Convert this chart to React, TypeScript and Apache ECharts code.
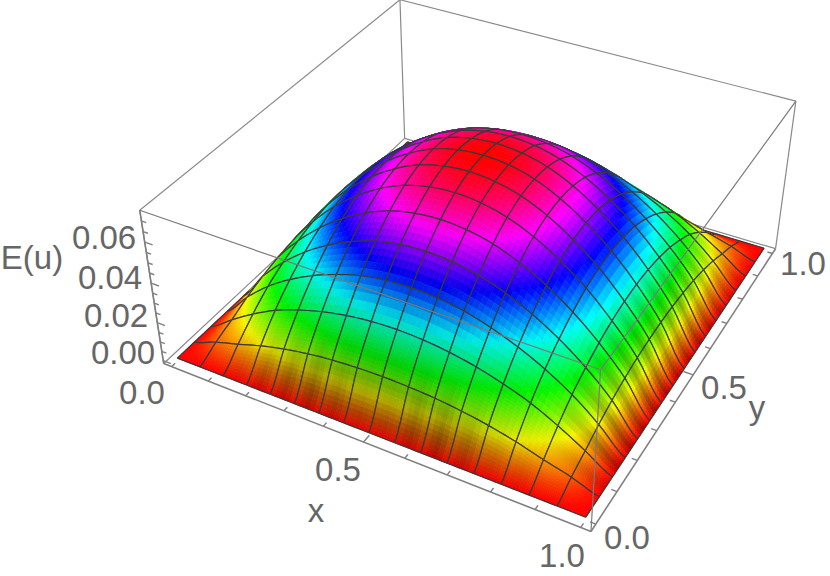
import React, { useEffect, useRef } from "react";
import * as echarts from "echarts";

// Surface heights (x 10^-3) at the mesh nodes; rows run along y = 0..1, columns along x = 0..1.
const heights: number[][] = [
  [0, 0, 0, 0, 0, 0, 0, 0, 0, 0, 0, 0, 0, 0, 0, 0, 0],
  [0, 4.5, 8.0, 11.8, 14.8, 17.0, 18.5, 19.3, 19.6, 19.3, 18.5, 17.0, 14.8, 11.8, 8.0, 4.5, 0],
  [0, 8.0, 15.5, 21.8, 26.4, 30.0, 32.5, 34.0, 34.5, 34.0, 32.5, 30.0, 26.4, 21.8, 15.5, 8.0, 0],
  [0, 11.8, 21.8, 29.6, 35.8, 40.6, 44.2, 46.1, 46.8, 46.1, 44.2, 40.6, 35.8, 29.6, 21.8, 11.8, 0],
  [0, 14.8, 26.4, 35.8, 43.3, 49.2, 53.4, 55.8, 56.6, 55.8, 53.4, 49.2, 43.3, 35.8, 26.4, 14.8, 0],
  [0, 17.0, 30.0, 40.6, 49.2, 55.9, 60.7, 63.4, 64.3, 63.4, 60.7, 55.9, 49.2, 40.6, 30.0, 17.0, 0],
  [0, 18.5, 32.5, 44.2, 53.4, 60.7, 65.9, 68.9, 69.9, 68.9, 65.9, 60.7, 53.4, 44.2, 32.5, 18.5, 0],
  [0, 19.3, 34.0, 46.1, 55.8, 63.4, 68.9, 71.9, 73.0, 71.9, 68.9, 63.4, 55.8, 46.1, 34.0, 19.3, 0],
  [0, 19.6, 34.5, 46.8, 56.6, 64.3, 69.9, 73.0, 74.0, 73.0, 69.9, 64.3, 56.6, 46.8, 34.5, 19.6, 0],
  [0, 19.3, 34.0, 46.1, 55.8, 63.4, 68.9, 71.9, 73.0, 71.9, 68.9, 63.4, 55.8, 46.1, 34.0, 19.3, 0],
  [0, 18.5, 32.5, 44.2, 53.4, 60.7, 65.9, 68.9, 69.9, 68.9, 65.9, 60.7, 53.4, 44.2, 32.5, 18.5, 0],
  [0, 17.0, 30.0, 40.6, 49.2, 55.9, 60.7, 63.4, 64.3, 63.4, 60.7, 55.9, 49.2, 40.6, 30.0, 17.0, 0],
  [0, 14.8, 26.4, 35.8, 43.3, 49.2, 53.4, 55.8, 56.6, 55.8, 53.4, 49.2, 43.3, 35.8, 26.4, 14.8, 0],
  [0, 11.8, 21.8, 29.6, 35.8, 40.6, 44.2, 46.1, 46.8, 46.1, 44.2, 40.6, 35.8, 29.6, 21.8, 11.8, 0],
  [0, 8.0, 15.5, 21.8, 26.4, 30.0, 32.5, 34.0, 34.5, 34.0, 32.5, 30.0, 26.4, 21.8, 15.5, 8.0, 0],
  [0, 4.5, 8.0, 11.8, 14.8, 17.0, 18.5, 19.3, 19.6, 19.3, 18.5, 17.0, 14.8, 11.8, 8.0, 4.5, 0],
  [0, 0, 0, 0, 0, 0, 0, 0, 0, 0, 0, 0, 0, 0, 0, 0, 0],
];
const zPeak = 74;
const xMinorTicks = [0, 0.1, 0.2, 0.3, 0.4, 0.6, 0.7, 0.8, 0.9, 1];
const xMajorTicks = [0.5];
const zMajorTicks = [0, 20, 40, 60];
const zMinorTicks = [5, 10, 15, 25, 30, 35, 45, 50, 55, 65, 70];
// strength of the dark lighting streaks seen in each mesh cell along the right and front rims
const rightRimStreak = [0, 0.12, 0.28, 0.32, 0.3, 0.32, 0.32, 0.3, 0.3, 0.32, 0.28, 0.24, 0.18, 0.12, 0.05, 0];
const frontRimStreak = [0, 0, 0.05, 0.14, 0.18, 0.2, 0.12, 0.05, 0.05, 0.16, 0.2, 0.14, 0.05, 0.04, 0, 0];

// Camera calibration: box corners in box coordinates and in the picture.
const boxCorners3d = [
  [0, 0, 0], [1, 0, 0], [1, 1, 0], [0, 1, 0],
  [0, 0, 1], [1, 0, 1], [1, 1, 1], [0, 1, 1],
];
const boxCorners2d = [
  [163, 363], [592, 531], [775, 250], [405, 138],
  [140, 211], [600, 370], [796, 100], [400, 0],
];
const PAD = 0.022;
const Z_LO = -1.5;
const Z_HI = 75;

function solveCamera(): number[] {
  const n = 11;
  const A = Array.from({ length: n }, () => new Array(n + 1).fill(0));
  const add = (row: number[], rhs: number) => {
    for (let r = 0; r < n; r++) {
      for (let c = 0; c < n; c++) A[r][c] += row[r] * row[c];
      A[r][n] += row[r] * rhs;
    }
  };
  boxCorners3d.forEach(([u, v, w], k) => {
    const [X, Y] = boxCorners2d[k];
    add([u, v, w, 1, 0, 0, 0, 0, -X * u, -X * v, -X * w], X);
    add([0, 0, 0, 0, u, v, w, 1, -Y * u, -Y * v, -Y * w], Y);
  });
  for (let c = 0; c < n; c++) {
    let p = c;
    for (let r = c + 1; r < n; r++) if (Math.abs(A[r][c]) > Math.abs(A[p][c])) p = r;
    [A[c], A[p]] = [A[p], A[c]];
    for (let r = 0; r < n; r++) {
      if (r === c) continue;
      const f = A[r][c] / A[c][c];
      for (let k = c; k <= n; k++) A[r][k] -= f * A[c][k];
    }
  }
  return A.map((row, i) => row[n] / row[i]);
}
const cam = solveCamera();

function project(x: number, y: number, z: number): number[] {
  const u = (x + PAD) / (1 + 2 * PAD);
  const v = (y + PAD) / (1 + 2 * PAD);
  return projectBox(u, v, (z - Z_LO) / (Z_HI - Z_LO));
}
function projectBox(u: number, v: number, w: number): number[] {
  const d = cam[8] * u + cam[9] * v + cam[10] * w + 1;
  return [
    (cam[0] * u + cam[1] * v + cam[2] * w + cam[3]) / d,
    (cam[4] * u + cam[5] * v + cam[6] * w + cam[7]) / d,
  ];
}

const N = heights.length - 1;
function cubic(a: number, b: number, c: number, d: number, t: number) {
  return b + 0.5 * t * (c - a + t * (2 * a - 5 * b + 4 * c - d + t * (3 * (b - c) + d - a)));
}
const cell = (i: number, j: number) =>
  heights[Math.max(0, Math.min(N, j))][Math.max(0, Math.min(N, i))];
function surf(gx: number, gy: number): number {
  const i = Math.min(N - 1, Math.floor(gx));
  const j = Math.min(N - 1, Math.floor(gy));
  const tx = gx - i;
  const ty = gy - j;
  const rows = [-1, 0, 1, 2].map((dj) =>
    cubic(cell(i - 1, j + dj), cell(i, j + dj), cell(i + 1, j + dj), cell(i + 2, j + dj), tx)
  );
  return cubic(rows[0], rows[1], rows[2], rows[3], ty);
}
function hsv(h: number, v: number): string {
  const hh = ((h % 1) + 1) % 1;
  const s = hh * 6;
  const f = s - Math.floor(s);
  const tbl = [
    [1, f, 0], [1 - f, 1, 0], [0, 1, f], [0, 1 - f, 1], [f, 0, 1], [1, 0, 1 - f],
  ][Math.floor(s) % 6];
  return `rgb(${tbl.map((c) => Math.round(c * v * 255)).join(",")})`;
}

type Seg = number[][];

function segSeries(segs: Seg[], color: string, width: number, z: number) {
  return {
    type: "custom",
    coordinateSystem: "cartesian2d",
    silent: true,
    clip: false,
    z,
    data: segs.map((_, k) => [k, k]),
    renderItem: (params: any, api: any) => {
      const s = segs[params.dataIndex];
      const a = api.coord(s[0]);
      const b = api.coord(s[1]);
      return {
        type: "line",
        shape: { x1: a[0], y1: a[1], x2: b[0], y2: b[1] },
        style: { stroke: color, lineWidth: width, fill: "none" },
      };
    },
  };
}

export default function App() {
  const ref = useRef<HTMLDivElement>(null);
  useEffect(() => {
    const chart = echarts.init(ref.current!, undefined, { renderer: "svg" });
    const c = (u: number, v: number, w: number) => projectBox(u, v, w);
    const backEdges: Seg[] = [
      [c(0, 1, 0), c(0, 1, 1)],
      [c(0, 1, 1), c(0, 0, 1)],
      [c(0, 1, 1), c(1, 1, 1)],
      [c(0, 0, 0), c(0, 1, 0)],
      [c(1, 1, 0), c(0, 1, 0)],
      [c(0, 0, 0), c(0, 0, 1)],
      [c(1, 1, 0), c(1, 1, 1)],
    ];
    const frontEdges: Seg[] = [
      [c(0, 0, 1), c(1, 0, 1)],
      [c(1, 0, 1), c(1, 1, 1)],
      [c(1, 0, 1), c(1, 0, 0)],
    ];
    const axisEdges: Seg[] = [
      [c(0, 0, 0), c(1, 0, 0)],
      [c(1, 0, 0), c(1, 1, 0)],
      [c(0, 0, 0), c(0, 0, 1)],
    ];
    const tk = (t: number) => (t + PAD) / (1 + 2 * PAD);
    const ticks: Seg[] = [];
    xMinorTicks.forEach((t) => {
      ticks.push([c(tk(t), 0, 0), c(tk(t), 0.012, 0)]);
      ticks.push([c(1, tk(t), 0), c(0.988, tk(t), 0)]);
    });
    xMajorTicks.forEach((t) => {
      ticks.push([c(tk(t), 0, 0), c(tk(t), 0.022, 0)]);
      ticks.push([c(1, tk(t), 0), c(0.978, tk(t), 0)]);
    });
    const zw = (t: number) => (t - Z_LO) / (Z_HI - Z_LO);
    zMajorTicks.forEach((t) => ticks.push([c(0, 0, zw(t)), c(0.02, 0, zw(t))]));
    zMinorTicks.forEach((t) => ticks.push([c(0, 0, zw(t)), c(0.012, 0, zw(t))]));

    // painter's order: farthest cell (x=0, y=1) first
    const cells: number[][] = [];
    for (let i = 0; i < N; i++) for (let j = N - 1; j >= 0; j--) cells.push([i, j]);

    const bump = (t: number) => Math.pow(Math.sin(Math.PI * t), 2);
    const renderCell = (params: any, api: any) => {
      const [i, j] = cells[params.dataIndex];
      const pt = (gx: number, gy: number) => api.coord(project(gx / N, gy / N, surf(gx, gy)));
      const subX = i < 2 || i >= N - 2 ? 12 : 5;
      const subY = j < 2 || j >= N - 2 ? 12 : 5;
      const children: any[] = [];
      for (let a = 0; a < subX; a++) {
        for (let b = subY - 1; b >= 0; b--) {
          const x0 = i + a / subX, x1 = i + (a + 1) / subX;
          const y0 = j + b / subY, y1 = j + (b + 1) / subY;
          const mx = (x0 + x1) / 2, my = (y0 + y1) / 2;
          const zv = surf(mx, my);
          const slope = Math.max(0, (surf(mx, y1) - surf(mx, y0)) / (y1 - y0)) / 19.6;
          let shade = 1 - 0.3 * Math.min(1, slope * slope);
          if (mx > N - 2.4) {
            const across = Math.min(1, (mx - (N - 2.4)) / 1.6);
            shade *= 1 - rightRimStreak[j] * bump(my - j) * across;
          }
          if (my < 1.6) {
            const across = Math.min(1, (1.6 - my) / 1.2);
            shade *= 1 - frontRimStreak[i] * bump(mx - i) * across;
          }
          const col = hsv(Math.max(0, Math.min(1, zv / zPeak)), shade);
          children.push({
            type: "polygon",
            shape: { points: [pt(x0, y0), pt(x1, y0), pt(x1, y1), pt(x0, y1)] },
            style: { fill: col, stroke: col, lineWidth: 0.7 },
          });
        }
      }
      const edge = (f: (t: number) => number[]) => {
        const pts = [];
        for (let k = 0; k <= 5; k++) pts.push(f(k / 5));
        return {
          type: "polyline",
          shape: { points: pts },
          style: { stroke: "#3a3a3a", lineWidth: 1.2, fill: "none" },
        };
      };
      children.push(edge((t) => pt(i + t, j)));
      children.push(edge((t) => pt(i + t, j + 1)));
      children.push(edge((t) => pt(i, j + t)));
      children.push(edge((t) => pt(i + 1, j + t)));
      return { type: "group", children };
    };

    const label = (text: string, x: number, y: number) => ({
      type: "text",
      silent: true,
      style: {
        text,
        x,
        y,
        align: "center",
        verticalAlign: "middle",
        fill: "#666666",
        font: '33px "Liberation Sans", Arial, sans-serif',
      },
    });

    chart.setOption({
      animation: false,
      grid: { left: 0, top: 0, width: 830, height: 576 },
      xAxis: { type: "value", min: 0, max: 830, show: false },
      yAxis: { type: "value", min: 0, max: 576, inverse: true, show: false },
      series: [
        segSeries(backEdges, "#8a8a8a", 1.2, 1),
        {
          type: "custom",
          coordinateSystem: "cartesian2d",
          silent: true,
          clip: false,
          z: 2,
          progressive: 0,
          data: cells,
          renderItem: renderCell,
        },
        segSeries(frontEdges, "#7a7a7a", 1.2, 3),
        segSeries(axisEdges, "#808080", 1.6, 3),
        segSeries(ticks, "#808080", 1.4, 3),
      ],
      graphic: {
        elements: [
          label("E(u)", 32, 257),
          label("0.06", 104, 237),
          label("0.04", 110, 277),
          label("0.02", 116, 315),
          label("0.00", 123, 352),
          label("0.0", 142, 392),
          label("0.5", 338, 469),
          label("x", 316, 510),
          label("1.0", 562, 555),
          label("0.0", 627, 537),
          label("0.5", 724, 387),
          label("y", 757, 407),
          label("1.0", 803, 263),
        ],
      },
    });
    return () => chart.dispose();
  }, []);
  return (
    <div
      ref={ref}
      style={{ position: "fixed", left: 0, top: 0, width: 830, height: 576, background: "#fff" }}
    />
  );
}
